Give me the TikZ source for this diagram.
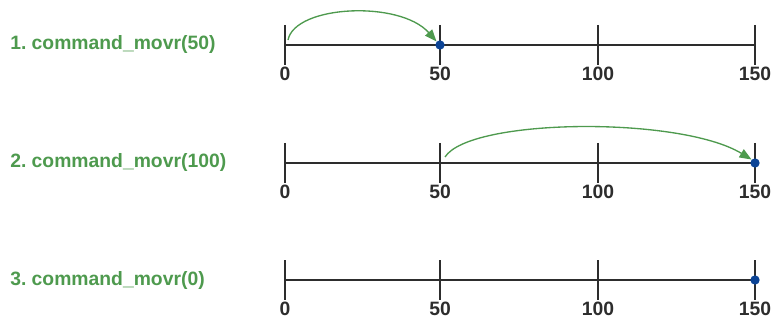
\documentclass[tikz,border=0pt]{standalone}
\usepackage{fontspec}
\setmainfont{Liberation Sans}
\usetikzlibrary{arrows.meta}
\definecolor{cmdgreen}{RGB}{78,154,78}
\definecolor{posblue}{RGB}{12,68,150}
\definecolor{axisgray}{RGB}{45,45,45}

\begin{document}
\frenchspacing
\begin{tikzpicture}[x=0.75pt, y=-0.75pt,
    cmd/.style={anchor=west, text=cmdgreen, font=\fontsize{14.5}{17}\selectfont\bfseries, inner sep=0pt},
    num/.style={anchor=north, text=axisgray, font=\fontsize{14.5}{17}\selectfont\bfseries, inner sep=0pt},
    axis/.style={line width=1.5pt, draw=axisgray},
    posdot/.style={circle, fill=posblue, inner sep=0pt, minimum size=7pt},
    move/.style={-{Triangle[length=9pt, width=7pt]}, draw=cmdgreen, line width=1pt}
]
\useasboundingbox (0,0) rectangle (773,320);

% Row 1: move by 50
\node[cmd] (cmd1) at (10,45) {1. command\_movr(50)};
\draw[axis] (285,45) -- (755,45);
\foreach \x/\v in {285/0,440/50,598/100,755/150} {
  \draw[axis] (\x,25) -- (\x,65);
  \node[num] (numa\v) at (\x,67) {\v};
}
\coordinate (start1) at (288,40);
\node[posdot] (pos1) at (440,45) {};
\draw[move] (start1) .. controls (295,5) and (400,0) .. (pos1.north west);

% Row 2: move by 100
\node[cmd] (cmd2) at (10,163) {2. command\_movr(100)};
\draw[axis] (285,163) -- (755,163);
\foreach \x/\v in {285/0,440/50,598/100,755/150} {
  \draw[axis] (\x,143) -- (\x,183);
  \node[num] (numb\v) at (\x,185) {\v};
}
\coordinate (start2) at (445,157);
\node[posdot] (pos2) at (755,163) {};
\draw[move] (start2) .. controls (470,118) and (680,116) .. (pos2.north west);

% Row 3: move by 0
\node[cmd] (cmd3) at (10,280) {3. command\_movr(0)};
\draw[axis] (285,280) -- (755,280);
\foreach \x/\v in {285/0,440/50,598/100,755/150} {
  \draw[axis] (\x,260) -- (\x,300);
  \node[num] (numc\v) at (\x,302) {\v};
}
\node[posdot] (pos3) at (755,280) {};

\end{tikzpicture}
\end{document}
